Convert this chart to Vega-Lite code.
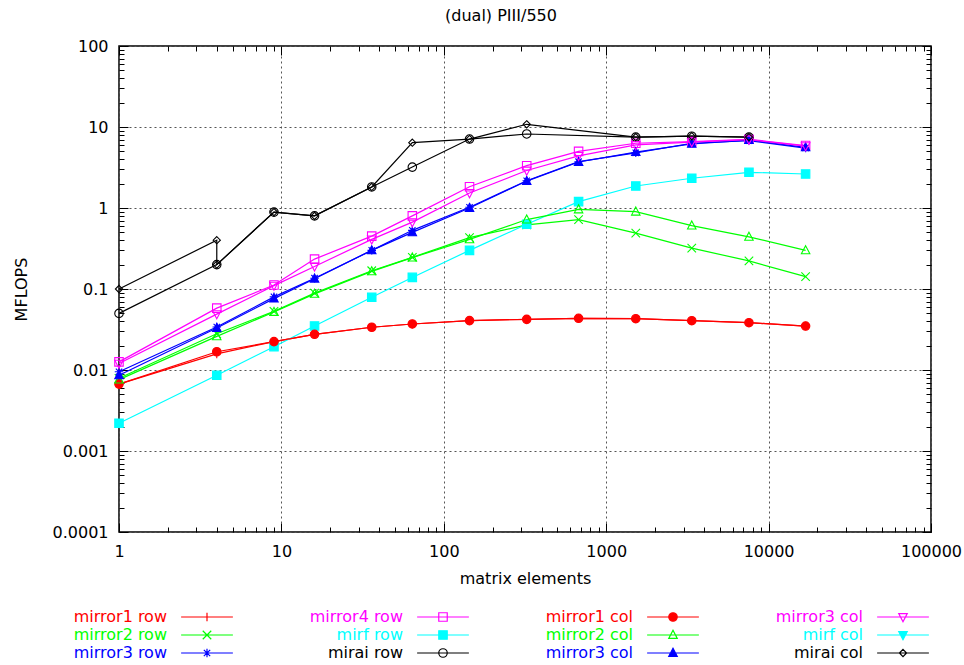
{
  "$schema": "https://vega.github.io/schema/vega-lite/v6.json",
  "width": 812,
  "height": 486,
  "autosize": {"type": "none"},
  "padding": {"left": 119, "top": 46, "right": 33, "bottom": 133},
  "background": "white",
  "title": {"text": "(dual) PIII/550", "fontSize": 16, "fontWeight": "normal", "font": "DejaVu Sans", "color": "black", "anchor": "middle", "offset": 14, "dx": -24},
  "config": {
    "font": "DejaVu Sans",
    "view": {"stroke": "black", "strokeWidth": 1.5},
    "axis": {
      "labelFont": "DejaVu Sans", "labelFontSize": 16, "labelColor": "black",
      "titleFont": "DejaVu Sans", "titleFontSize": 16, "titleFontWeight": "normal", "titleColor": "black",
      "tickColor": "black", "tickWidth": 1, "domain": false,
      "labelOverlap": false, "labelFlush": false, "labelBound": false
    },
    "legend": {
      "orient": "none", "legendX": -37, "legendY": 563,
      "columns": 4, "columnPadding": 73, "rowPadding": 2, "padding": 0,
      "labelFontSize": 16, "labelLimit": 0, "labelFont": "DejaVu Sans",
      "symbolSize": 72, "symbolStrokeWidth": 1.2, "symbolOpacity": 1
    }
  },
  "datasets": {
    "d": [
      {"s":"mirror1 row","x":1,"y":0.0067,"i":0},{"s":"mirror1 row","x":4,"y":0.0158,"i":1},{"s":"mirror1 row","x":9,"y":0.0224,"i":2},{"s":"mirror1 row","x":16,"y":0.0276,"i":3},{"s":"mirror1 row","x":36,"y":0.0337,"i":4},{"s":"mirror1 row","x":64,"y":0.037,"i":5},{"s":"mirror1 row","x":144,"y":0.0407,"i":6},{"s":"mirror1 row","x":324,"y":0.0422,"i":7},{"s":"mirror1 row","x":676,"y":0.0435,"i":8},{"s":"mirror1 row","x":1521,"y":0.043,"i":9},{"s":"mirror1 row","x":3364,"y":0.0406,"i":10},{"s":"mirror1 row","x":7569,"y":0.0384,"i":11},{"s":"mirror1 row","x":16900,"y":0.0349,"i":12},
      {"s":"mirror2 row","x":1,"y":0.0079,"i":0},{"s":"mirror2 row","x":4,"y":0.028,"i":1},{"s":"mirror2 row","x":9,"y":0.053,"i":2},{"s":"mirror2 row","x":16,"y":0.089,"i":3},{"s":"mirror2 row","x":36,"y":0.168,"i":4},{"s":"mirror2 row","x":64,"y":0.246,"i":5},{"s":"mirror2 row","x":144,"y":0.43,"i":6},{"s":"mirror2 row","x":324,"y":0.62,"i":7},{"s":"mirror2 row","x":676,"y":0.72,"i":8},{"s":"mirror2 row","x":1521,"y":0.49,"i":9},{"s":"mirror2 row","x":3364,"y":0.32,"i":10},{"s":"mirror2 row","x":7569,"y":0.222,"i":11},{"s":"mirror2 row","x":16900,"y":0.142,"i":12},
      {"s":"mirror3 row","x":1,"y":0.0095,"i":0},{"s":"mirror3 row","x":4,"y":0.034,"i":1},{"s":"mirror3 row","x":9,"y":0.08,"i":2},{"s":"mirror3 row","x":16,"y":0.136,"i":3},{"s":"mirror3 row","x":36,"y":0.3,"i":4},{"s":"mirror3 row","x":64,"y":0.53,"i":5},{"s":"mirror3 row","x":144,"y":1.02,"i":6},{"s":"mirror3 row","x":324,"y":2.17,"i":7},{"s":"mirror3 row","x":676,"y":3.73,"i":8},{"s":"mirror3 row","x":1521,"y":4.8,"i":9},{"s":"mirror3 row","x":3364,"y":6.3,"i":10},{"s":"mirror3 row","x":7569,"y":6.8,"i":11},{"s":"mirror3 row","x":16900,"y":5.5,"i":12},
      {"s":"mirror4 row","x":1,"y":0.0126,"i":0},{"s":"mirror4 row","x":4,"y":0.058,"i":1},{"s":"mirror4 row","x":9,"y":0.112,"i":2},{"s":"mirror4 row","x":16,"y":0.234,"i":3},{"s":"mirror4 row","x":36,"y":0.45,"i":4},{"s":"mirror4 row","x":64,"y":0.8,"i":5},{"s":"mirror4 row","x":144,"y":1.83,"i":6},{"s":"mirror4 row","x":324,"y":3.33,"i":7},{"s":"mirror4 row","x":676,"y":5.0,"i":8},{"s":"mirror4 row","x":1521,"y":6.3,"i":9},{"s":"mirror4 row","x":3364,"y":6.6,"i":10},{"s":"mirror4 row","x":7569,"y":7.05,"i":11},{"s":"mirror4 row","x":16900,"y":5.9,"i":12},
      {"s":"mirf row","x":1,"y":0.0022,"i":0},{"s":"mirf row","x":4,"y":0.0086,"i":1},{"s":"mirf row","x":9,"y":0.0194,"i":2},{"s":"mirf row","x":16,"y":0.035,"i":3},{"s":"mirf row","x":36,"y":0.079,"i":4},{"s":"mirf row","x":64,"y":0.139,"i":5},{"s":"mirf row","x":144,"y":0.3,"i":6},{"s":"mirf row","x":324,"y":0.63,"i":7},{"s":"mirf row","x":676,"y":1.2,"i":8},{"s":"mirf row","x":1521,"y":1.87,"i":9},{"s":"mirf row","x":3364,"y":2.33,"i":10},{"s":"mirf row","x":7569,"y":2.76,"i":11},{"s":"mirf row","x":16900,"y":2.63,"i":12},
      {"s":"mirai row","x":1,"y":0.05,"i":0},{"s":"mirai row","x":4,"y":0.2,"i":1},{"s":"mirai row","x":9,"y":0.89,"i":2},{"s":"mirai row","x":16,"y":0.8,"i":3},{"s":"mirai row","x":36,"y":1.82,"i":4},{"s":"mirai row","x":64,"y":3.2,"i":5},{"s":"mirai row","x":144,"y":7.1,"i":6},{"s":"mirai row","x":324,"y":8.2,"i":7},{"s":"mirai row","x":1521,"y":7.5,"i":8},{"s":"mirai row","x":3364,"y":7.7,"i":9},{"s":"mirai row","x":7569,"y":7.5,"i":10},
      {"s":"mirror1 col","x":1,"y":0.0067,"i":0},{"s":"mirror1 col","x":4,"y":0.0168,"i":1},{"s":"mirror1 col","x":9,"y":0.0224,"i":2},{"s":"mirror1 col","x":16,"y":0.0276,"i":3},{"s":"mirror1 col","x":36,"y":0.0337,"i":4},{"s":"mirror1 col","x":64,"y":0.037,"i":5},{"s":"mirror1 col","x":144,"y":0.0407,"i":6},{"s":"mirror1 col","x":324,"y":0.0422,"i":7},{"s":"mirror1 col","x":676,"y":0.0435,"i":8},{"s":"mirror1 col","x":1521,"y":0.043,"i":9},{"s":"mirror1 col","x":3364,"y":0.0406,"i":10},{"s":"mirror1 col","x":7569,"y":0.0384,"i":11},{"s":"mirror1 col","x":16900,"y":0.0349,"i":12},
      {"s":"mirror2 col","x":1,"y":0.0076,"i":0},{"s":"mirror2 col","x":4,"y":0.026,"i":1},{"s":"mirror2 col","x":9,"y":0.052,"i":2},{"s":"mirror2 col","x":16,"y":0.087,"i":3},{"s":"mirror2 col","x":36,"y":0.165,"i":4},{"s":"mirror2 col","x":64,"y":0.244,"i":5},{"s":"mirror2 col","x":144,"y":0.41,"i":6},{"s":"mirror2 col","x":324,"y":0.72,"i":7},{"s":"mirror2 col","x":676,"y":0.96,"i":8},{"s":"mirror2 col","x":1521,"y":0.9,"i":9},{"s":"mirror2 col","x":3364,"y":0.605,"i":10},{"s":"mirror2 col","x":7569,"y":0.44,"i":11},{"s":"mirror2 col","x":16900,"y":0.3,"i":12},
      {"s":"mirror3 col","x":1,"y":0.0086,"i":0},{"s":"mirror3 col","x":4,"y":0.033,"i":1},{"s":"mirror3 col","x":9,"y":0.076,"i":2},{"s":"mirror3 col","x":16,"y":0.134,"i":3},{"s":"mirror3 col","x":36,"y":0.3,"i":4},{"s":"mirror3 col","x":64,"y":0.5,"i":5},{"s":"mirror3 col","x":144,"y":1.0,"i":6},{"s":"mirror3 col","x":324,"y":2.15,"i":7},{"s":"mirror3 col","x":676,"y":3.7,"i":8},{"s":"mirror3 col","x":1521,"y":4.9,"i":9},{"s":"mirror3 col","x":3364,"y":6.2,"i":10},{"s":"mirror3 col","x":7569,"y":6.9,"i":11},{"s":"mirror3 col","x":16900,"y":5.6,"i":12},
      {"s":"mirror4 col","x":1,"y":0.012,"i":0},{"s":"mirror4 col","x":4,"y":0.049,"i":1},{"s":"mirror4 col","x":9,"y":0.11,"i":2},{"s":"mirror4 col","x":16,"y":0.19,"i":3},{"s":"mirror4 col","x":36,"y":0.41,"i":4},{"s":"mirror4 col","x":64,"y":0.67,"i":5},{"s":"mirror4 col","x":144,"y":1.53,"i":6},{"s":"mirror4 col","x":324,"y":2.9,"i":7},{"s":"mirror4 col","x":676,"y":4.4,"i":8},{"s":"mirror4 col","x":1521,"y":6.0,"i":9},{"s":"mirror4 col","x":3364,"y":6.5,"i":10},{"s":"mirror4 col","x":7569,"y":7.0,"i":11},{"s":"mirror4 col","x":16900,"y":5.8,"i":12},
      {"s":"mirai col","x":1,"y":0.1,"i":0},{"s":"mirai col","x":4,"y":0.4,"i":1},{"s":"mirai col","x":4,"y":0.2,"i":2},{"s":"mirai col","x":9,"y":0.89,"i":3},{"s":"mirai col","x":16,"y":0.8,"i":4},{"s":"mirai col","x":36,"y":1.82,"i":5},{"s":"mirai col","x":64,"y":6.4,"i":6},{"s":"mirai col","x":144,"y":7.1,"i":7},{"s":"mirai col","x":324,"y":10.8,"i":8},{"s":"mirai col","x":1521,"y":7.5,"i":9},{"s":"mirai col","x":3364,"y":7.7,"i":10},{"s":"mirai col","x":7569,"y":7.5,"i":11}
    ]
  },
  "layer": [
    {
      "data": {"name": "d"},
      "encoding": {
        "x": {"field": "x", "type": "quantitative",
          "scale": {"type": "log", "domain": [1, 100000], "nice": false},
          "axis": {
            "values": [1,2,3,4,5,6,7,8,9,10,20,30,40,50,60,70,80,90,100,200,300,400,500,600,700,800,900,1000,2000,3000,4000,5000,6000,7000,8000,9000,10000,20000,30000,40000,50000,60000,70000,80000,90000,100000],
            "labelExpr": "abs(log(datum.value)/LN10 - round(log(datum.value)/LN10)) < 0.0001 ? format(datum.value, '~g') : ''",
            "tickSize": {"condition": {"test": "abs(log(datum.value)/LN10 - round(log(datum.value)/LN10)) < 0.0001", "value": -9}, "value": -5},
            "grid": true,
            "gridOpacity": {"condition": {"test": "abs(log(datum.value)/LN10 - round(log(datum.value)/LN10)) < 0.0001", "value": 1}, "value": 0},
            "gridDash": [2, 3], "gridColor": "#555555", "gridWidth": 1,
            "labelPadding": 20,
            "title": "matrix elements", "titleX": 406, "titleY": 46, "titleBaseline": "middle", "titleAlign": "center"
          }
        },
        "y": {"field": "y", "type": "quantitative",
          "scale": {"type": "log", "domain": [0.0001, 100], "nice": false},
          "axis": {
            "values": [0.0001,0.0002,0.0003,0.0004,0.0005,0.0006,0.0007,0.0008,0.0009,0.001,0.002,0.003,0.004,0.005,0.006,0.007,0.008,0.009,0.01,0.02,0.03,0.04,0.05,0.06,0.07,0.08,0.09,0.1,0.2,0.3,0.4,0.5,0.6,0.7,0.8,0.9,1,2,3,4,5,6,7,8,9,10,20,30,40,50,60,70,80,90,100],
            "labelExpr": "abs(log(datum.value)/LN10 - round(log(datum.value)/LN10)) < 0.0001 ? format(datum.value, '~g') : ''",
            "tickSize": {"condition": {"test": "abs(log(datum.value)/LN10 - round(log(datum.value)/LN10)) < 0.0001", "value": -9}, "value": -5},
            "grid": true,
            "gridOpacity": {"condition": {"test": "abs(log(datum.value)/LN10 - round(log(datum.value)/LN10)) < 0.0001", "value": 1}, "value": 0},
            "gridDash": [2, 3], "gridColor": "#555555", "gridWidth": 1,
            "labelPadding": 20,
            "title": "MFLOPS", "titleX": -98, "titleY": 243, "titleAngle": -90, "titleBaseline": "middle", "titleAlign": "center"
          }
        },
        "color": {"field": "s", "type": "nominal",
          "scale": {
            "domain": ["mirror1 row","mirror2 row","mirror3 row","mirror4 row","mirf row","mirai row","mirror1 col","mirror2 col","mirror3 col","mirror4 col","mirf col","mirai col"],
            "range": ["#ff0000","#00ff00","#0000ff","#ff00ff","#00ffff","#000000","#ff0000","#00ff00","#0000ff","#ff00ff","#00ffff","#000000"]
          },
          "legend": null
        }
      },
      "layer": [
        {
          "mark": {"type": "line", "strokeWidth": 1.2},
          "encoding": {"order": {"field": "i", "type": "quantitative"}}
        },
        {
          "mark": {"type": "point", "strokeWidth": 1.1, "size": 72, "opacity": 1, "filled": false},
          "encoding": {
            "shape": {"field": "s", "type": "nominal",
              "scale": {
                "domain": ["mirror1 row","mirror2 row","mirror3 row","mirror4 row","mirf row","mirai row","mirror1 col","mirror2 col","mirror3 col","mirror4 col","mirf col","mirai col"],
                "range": ["M-1,0H1M0,-1V1","M-1,-1L1,1M-1,1L1,-1","M-1,0H1M0,-1V1M-0.75,-0.75L0.75,0.75M-0.75,0.75L0.75,-0.75","M-1,-1H1V1H-1Z","M-1,-1H1V1H-1Z","M-1,0A1,1,0,1,0,1,0A1,1,0,1,0,-1,0Z","M-1,0A1,1,0,1,0,1,0A1,1,0,1,0,-1,0Z","M0,-1.1L1,0.8H-1Z","M0,-1.1L1,0.8H-1Z","M0,1.1L1,-0.8H-1Z","M0,1.1L1,-0.8H-1Z","M0,-0.85L0.85,0L0,0.85L-0.85,0Z"]
              },
              "legend": null
            },
            "fill": {"field": "s", "type": "nominal",
              "scale": {
                "domain": ["mirror1 row","mirror2 row","mirror3 row","mirror4 row","mirf row","mirai row","mirror1 col","mirror2 col","mirror3 col","mirror4 col","mirf col","mirai col"],
                "range": ["transparent","transparent","transparent","transparent","#00ffff","transparent","#ff0000","transparent","#0000ff","transparent","#00ffff","transparent"]
              },
              "legend": null
            }
          }
        }
      ]
    },
    {
      "data": {"name": "d"},
      "mark": {"type": "point", "opacity": 0},
      "encoding": {
        "x": {"field": "x", "type": "quantitative",
          "scale": {"type": "log", "domain": [1, 100000], "nice": false},
          "axis": {
            "orient": "top",
            "values": [1,2,3,4,5,6,7,8,9,10,20,30,40,50,60,70,80,90,100,200,300,400,500,600,700,800,900,1000,2000,3000,4000,5000,6000,7000,8000,9000,10000,20000,30000,40000,50000,60000,70000,80000,90000,100000],
            "labels": false, "grid": false, "title": null,
            "tickSize": {"condition": {"test": "abs(log(datum.value)/LN10 - round(log(datum.value)/LN10)) < 0.0001", "value": -9}, "value": -5}
          }
        },
        "y": {"field": "y", "type": "quantitative",
          "scale": {"type": "log", "domain": [0.0001, 100], "nice": false},
          "axis": {
            "orient": "right",
            "values": [0.0001,0.0002,0.0003,0.0004,0.0005,0.0006,0.0007,0.0008,0.0009,0.001,0.002,0.003,0.004,0.005,0.006,0.007,0.008,0.009,0.01,0.02,0.03,0.04,0.05,0.06,0.07,0.08,0.09,0.1,0.2,0.3,0.4,0.5,0.6,0.7,0.8,0.9,1,2,3,4,5,6,7,8,9,10,20,30,40,50,60,70,80,90,100],
            "labels": false, "grid": false, "title": null,
            "tickSize": {"condition": {"test": "abs(log(datum.value)/LN10 - round(log(datum.value)/LN10)) < 0.0001", "value": -9}, "value": -5}
          }
        }
      }
    },
    {
      "data": {"name": "d"},
      "transform": [{"filter": "false"}],
      "mark": {"type": "point", "strokeWidth": 1.1, "size": 72, "opacity": 1, "filled": false},
      "encoding": {
        "color": {"field": "s", "type": "nominal",
          "scale": {
            "domain": ["mirror1 row","mirror2 row","mirror3 row","mirror4 row","mirf row","mirai row","mirror1 col","mirror2 col","mirror3 col","mirror4 col","mirf col","mirai col"],
            "range": ["#ff0000","#00ff00","#0000ff","#ff00ff","#00ffff","#000000","#ff0000","#00ff00","#0000ff","#ff00ff","#00ffff","#000000"]
          },
          "legend": {
            "title": null,
            "labelExpr": "datum.label == 'mirror4 col' ? 'mirror3 col' : datum.label",
            "encode": {
              "symbols": {"update": {"x": {"value": 125}}},
              "labels": {"update": {
                "x": {"value": 85},
                "align": {"value": "right"},
                "fill": {"signal": "indexof(datum.value, 'mirror1') == 0 ? '#ff0000' : indexof(datum.value, 'mirror2') == 0 ? '#00ff00' : indexof(datum.value, 'mirror3') == 0 ? '#0000ff' : indexof(datum.value, 'mirror4') == 0 ? '#ff00ff' : indexof(datum.value, 'mirf') == 0 ? '#00ffff' : '#000000'"}
              }}
            }
          }
        },
        "shape": {"field": "s", "type": "nominal",
          "scale": {
            "domain": ["mirror1 row","mirror2 row","mirror3 row","mirror4 row","mirf row","mirai row","mirror1 col","mirror2 col","mirror3 col","mirror4 col","mirf col","mirai col"],
            "range": ["M-6.1,0H6.1M-1,0H1M0,-1V1","M-6.1,0H6.1M-1,-1L1,1M-1,1L1,-1","M-6.1,0H6.1M-1,0H1M0,-1V1M-0.75,-0.75L0.75,0.75M-0.75,0.75L0.75,-0.75","M-6.1,0H6.1M-1,-1H1V1H-1Z","M-6.1,0H6.1M-1,-1H1V1H-1Z","M-6.1,0H6.1M-1,0A1,1,0,1,0,1,0A1,1,0,1,0,-1,0Z","M-6.1,0H6.1M-1,0A1,1,0,1,0,1,0A1,1,0,1,0,-1,0Z","M-6.1,0H6.1M0,-1.1L1,0.8H-1Z","M-6.1,0H6.1M0,-1.1L1,0.8H-1Z","M-6.1,0H6.1M0,1.1L1,-0.8H-1Z","M-6.1,0H6.1M0,1.1L1,-0.8H-1Z","M-6.1,0H6.1M0,-0.85L0.85,0L0,0.85L-0.85,0Z"]
          },
          "legend": {
            "title": null,
            "labelExpr": "datum.label == 'mirror4 col' ? 'mirror3 col' : datum.label",
            "encode": {
              "symbols": {"update": {"x": {"value": 125}}},
              "labels": {"update": {
                "x": {"value": 85},
                "align": {"value": "right"},
                "fill": {"signal": "indexof(datum.value, 'mirror1') == 0 ? '#ff0000' : indexof(datum.value, 'mirror2') == 0 ? '#00ff00' : indexof(datum.value, 'mirror3') == 0 ? '#0000ff' : indexof(datum.value, 'mirror4') == 0 ? '#ff00ff' : indexof(datum.value, 'mirf') == 0 ? '#00ffff' : '#000000'"}
              }}
            }
          }
        },
        "fill": {"field": "s", "type": "nominal",
          "scale": {
            "domain": ["mirror1 row","mirror2 row","mirror3 row","mirror4 row","mirf row","mirai row","mirror1 col","mirror2 col","mirror3 col","mirror4 col","mirf col","mirai col"],
            "range": ["transparent","transparent","transparent","transparent","#00ffff","transparent","#ff0000","transparent","#0000ff","transparent","#00ffff","transparent"]
          },
          "legend": {
            "title": null,
            "labelExpr": "datum.label == 'mirror4 col' ? 'mirror3 col' : datum.label",
            "encode": {
              "symbols": {"update": {"x": {"value": 125}}},
              "labels": {"update": {
                "x": {"value": 85},
                "align": {"value": "right"},
                "fill": {"signal": "indexof(datum.value, 'mirror1') == 0 ? '#ff0000' : indexof(datum.value, 'mirror2') == 0 ? '#00ff00' : indexof(datum.value, 'mirror3') == 0 ? '#0000ff' : indexof(datum.value, 'mirror4') == 0 ? '#ff00ff' : indexof(datum.value, 'mirf') == 0 ? '#00ffff' : '#000000'"}
              }}
            }
          }
        }
      }
    }
  ],
  "resolve": {
    "scale": {"color": "independent", "shape": "independent", "fill": "independent"},
    "axis": {"x": "independent", "y": "independent"}
  }
}
